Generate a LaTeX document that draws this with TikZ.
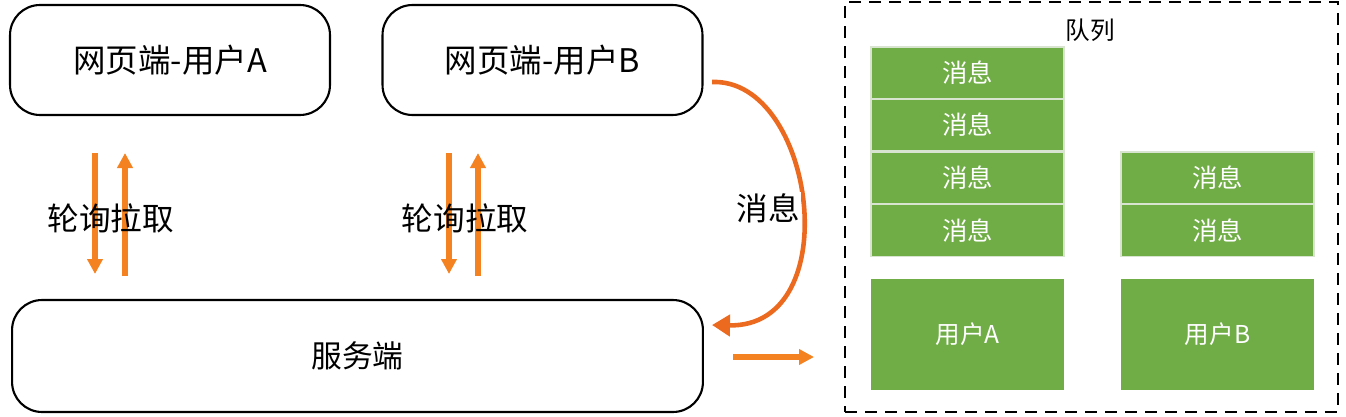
\documentclass[tikz,border=0pt]{standalone}
\usepackage{fontspec}
\setmainfont{Noto Sans CJK SC}
\usetikzlibrary{arrows.meta,calc}
\definecolor{org}{HTML}{F58220}
\definecolor{orgdark}{HTML}{EC6A1F}
\definecolor{grn}{HTML}{70AD47}
\definecolor{sep}{HTML}{D8E4CF}
\begin{document}
\begin{tikzpicture}[x=0.02cm,y=-0.02cm,
  client/.style={draw=black,line width=1.2pt,rounded corners=0.6cm,minimum width=6.4cm,minimum height=2.2cm,font=\fontsize{18.5pt}{21pt}\selectfont},
  msgbox/.style={fill=grn,draw=sep,line width=1pt,minimum width=3.86cm,minimum height=1.04cm,text=white,font=\fontsize{14.5pt}{17pt}\selectfont,inner sep=0pt},
  userbox/.style={fill=grn,draw=none,minimum width=3.86cm,minimum height=2.22cm,text=white,font=\fontsize{14pt}{16pt}\selectfont,inner sep=0pt},
  pollarrow/.style={draw=org,line width=3.4pt,-{Triangle[width=0.3cm,length=0.3cm]}},
  lbl/.style={font=\fontsize{18pt}{21pt}\selectfont,inner sep=0pt}
]
\useasboundingbox[fill=white] (0,0) rectangle (1346,416);

\node[client] (A) at (170,60) {网页端-用户A};
\node[client] (B) at (542.5,60) {网页端-用户B};
\node[client,minimum width=13.82cm,minimum height=2.24cm,font=\fontsize{17.5pt}{20pt}\selectfont] (S) at (357.5,356) {服务端};

% polling arrows
\coordinate (a1t) at (95,153);  \coordinate (a1b) at (95,274);
\coordinate (a2t) at (125,153); \coordinate (a2b) at (125,276);
\coordinate (b1t) at (449,153); \coordinate (b1b) at (449,274);
\coordinate (b2t) at (478,153); \coordinate (b2b) at (478,276);
\draw[pollarrow] (a1t) -- (a1b);
\draw[pollarrow] (a2b) -- (a2t);
\draw[pollarrow] (b1t) -- (b1b);
\draw[pollarrow] (b2b) -- (b2t);
\node[lbl] (pa) at (111,218) {轮询拉取};
\node[lbl] (pb) at (465,218) {轮询拉取};

% message curve
\coordinate (cs) at (712,82);
\coordinate (ce) at (712,325);
\draw[orgdark,line width=2.6pt,-{Triangle[width=0.42cm,length=0.36cm]}] (cs) .. controls (815,78) and (848,328) .. (ce);
\node[lbl,fill=white,inner sep=1pt] (msg) at (768,208) {消息};

% queue
\node[draw=black,line width=1.2pt,dash pattern=on 0.24cm off 0.16cm,minimum width=9.86cm,minimum height=8.2cm,inner sep=0pt] (Q) at (1091.5,207) {};
\node[font=\fontsize{14pt}{16pt}\selectfont,inner sep=0pt] (ql) at (1090,30) {队列};

\coordinate (rs) at (733,357);
\coordinate (re) at (814,357);
\draw[pollarrow] (rs) -- (re);

\node[msgbox] (m1) at (967.5,73) {消息};
\node[msgbox] (m2) at (967.5,125) {消息};
\node[msgbox] (m3) at (967.5,178) {消息};
\node[msgbox] (m4) at (967.5,230.5) {消息};
\node[msgbox] (n1) at (1217.5,178) {消息};
\node[msgbox] (n2) at (1217.5,230.5) {消息};
\node[userbox] (uA) at (967.5,334.5) {用户A};
\node[userbox] (uB) at (1217.5,334.5) {用户B};
\end{tikzpicture}
\end{document}
